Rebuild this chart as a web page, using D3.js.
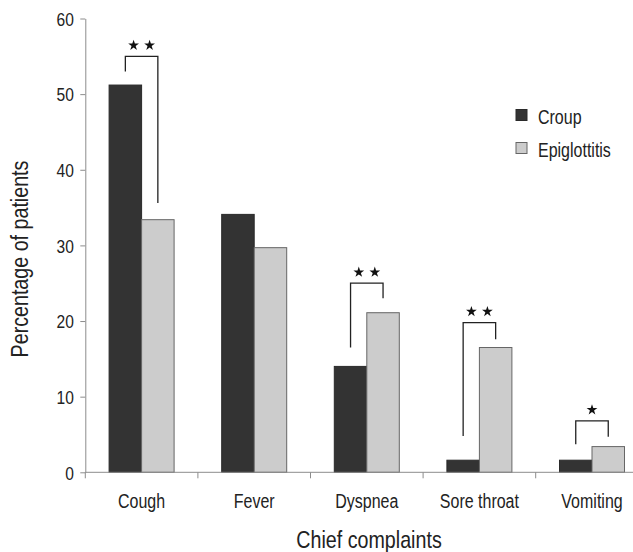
<!DOCTYPE html>
<html>
<head>
<script src="https://cdnjs.cloudflare.com/ajax/libs/d3/7.8.5/d3.min.js"></script>
<style>
body { margin: 0; background: white; }
svg text { font-family: "Liberation Sans", Arial, sans-serif; fill: #222; }
</style>
</head>
<body>
<svg id="chart" width="633" height="552"></svg>
<script>
// data
var categories = ["Cough", "Fever", "Dyspnea", "Sore throat", "Vomiting"];
var series = ["Croup", "Epiglottitis"];
var croup = [51.2, 34.1, 14.0, 1.6, 1.6];
var epiglottitis = [33.4, 29.7, 21.1, 16.5, 3.4];
var yTicks = [0, 10, 20, 30, 40, 50, 60];
// significance brackets: category, top of bracket, left foot, right foot, stars
var sigCats = ["Cough", "Dyspnea", "Sore throat", "Vomiting"];
var sigTop = [55.0, 25.0, 19.8, 6.8];
var sigLeft = [53.0, 16.5, 4.8, 3.7];
var sigRight = [35.6, 23.0, 17.6, 4.7];
var sigStars = [2, 2, 2, 1];

var colors = {"Croup": "#333333", "Epiglottitis": "#cccccc"};
var strokes = {"Croup": "#2a2a2a", "Epiglottitis": "#666666"};
var axisColor = "#8c8c8c";
var narrow = 0.82; // the figure uses a condensed face, squeeze the regular one

var svg = d3.select("#chart");

var y = d3.scaleLinear().domain([0, 60]).range([472.3, 18.5]);
var x0 = d3.scaleBand().domain(categories).range([85.3, 85.3 + 5 * 112.6]).padding(0);
var groupW = 65;
var x1 = d3.scaleBand().domain(series).range([0, groupW]).padding(0);
var off = (x0.bandwidth() - groupW) / 2;

function barX(cat, s) { return x0(cat) + off + x1(s); }
function barC(cat, s) { return barX(cat, s) + x1.bandwidth() / 2; }

// text squeezed horizontally around its anchor point
function label(parent, x, y, txt, size, anchor, rot) {
    return parent.append("text")
        .attr("transform", "translate(" + x + "," + y + ")" + (rot ? " rotate(" + rot + ")" : "") + " scale(" + narrow + ",1)")
        .attr("text-anchor", anchor || "start")
        .style("font-size", size + "px")
        .text(txt);
}

// bars
var rows = [];
categories.forEach(function(c, i) {
    rows.push({cat: c, s: "Croup", v: croup[i]});
    rows.push({cat: c, s: "Epiglottitis", v: epiglottitis[i]});
});
svg.append("g").selectAll("rect").data(rows).enter().append("rect")
    .attr("x", d => barX(d.cat, d.s))
    .attr("y", d => y(d.v))
    .attr("width", x1.bandwidth())
    .attr("height", d => y(0) - y(d.v))
    .attr("fill", d => colors[d.s])
    .attr("stroke", d => strokes[d.s])
    .attr("stroke-width", 1);

// y axis
var yAxis = svg.append("g").attr("transform", "translate(85.3,0)")
    .call(d3.axisLeft(y).tickValues(yTicks).tickSize(5).tickSizeOuter(0));
yAxis.select(".domain").attr("stroke", axisColor);
yAxis.selectAll(".tick line").attr("stroke", axisColor);
yAxis.selectAll(".tick text").remove();
yAxis.selectAll(".tick").each(function(d) {
    label(d3.select(this), -11.5, 6.8, d, 19, "end");
});

// x axis
var xg = svg.append("g");
xg.append("line").attr("x1", x0.range()[0]).attr("x2", 633)
    .attr("y1", y(0)).attr("y2", y(0)).attr("stroke", axisColor);
xg.selectAll("line.tk").data(categories).enter().append("line")
    .attr("class", "tk")
    .attr("x1", d => x0(d)).attr("x2", d => x0(d))
    .attr("y1", y(0)).attr("y2", y(0) + 6)
    .attr("stroke", axisColor);
categories.forEach(function(c) {
    label(xg, x0(c) + x0.bandwidth() / 2, 508, c, 19.5, "middle");
});

// axis titles
label(svg, 369, 548, "Chief complaints", 24, "middle");
label(svg, 28, 259, "Percentage of patients", 24, "middle", -90);

// significance brackets
var star = d3.symbol().type(d3.symbolStar).size(36);
sigCats.forEach(function(c, i) {
    var xl = barC(c, "Croup"), xr = barC(c, "Epiglottitis");
    svg.append("path")
        .attr("d", "M" + xl + "," + y(sigLeft[i]) + "V" + y(sigTop[i]) + "H" + xr + "V" + y(sigRight[i]))
        .attr("fill", "none").attr("stroke", "#222").attr("stroke-width", 1.3);
    var cx = (xl + xr) / 2;
    var n = sigStars[i];
    for (var k = 0; k < n; k++) {
        var sx = cx + (k - (n - 1) / 2) * 16;
        svg.append("path").attr("d", star)
            .attr("transform", "translate(" + sx + "," + (y(sigTop[i]) - 11) + ")")
            .attr("fill", "#111");
    }
});

// legend
var lg = svg.append("g").selectAll("g").data(series).enter().append("g")
    .attr("transform", (d, i) => "translate(516," + (109.5 + i * 33) + ")");
lg.append("rect").attr("width", 11).attr("height", 11)
    .attr("fill", d => colors[d]).attr("stroke", d => strokes[d]);
lg.each(function(d) { label(d3.select(this), 22, 14.5, d, 19.5, "start"); });
</script>
</body>
</html>
